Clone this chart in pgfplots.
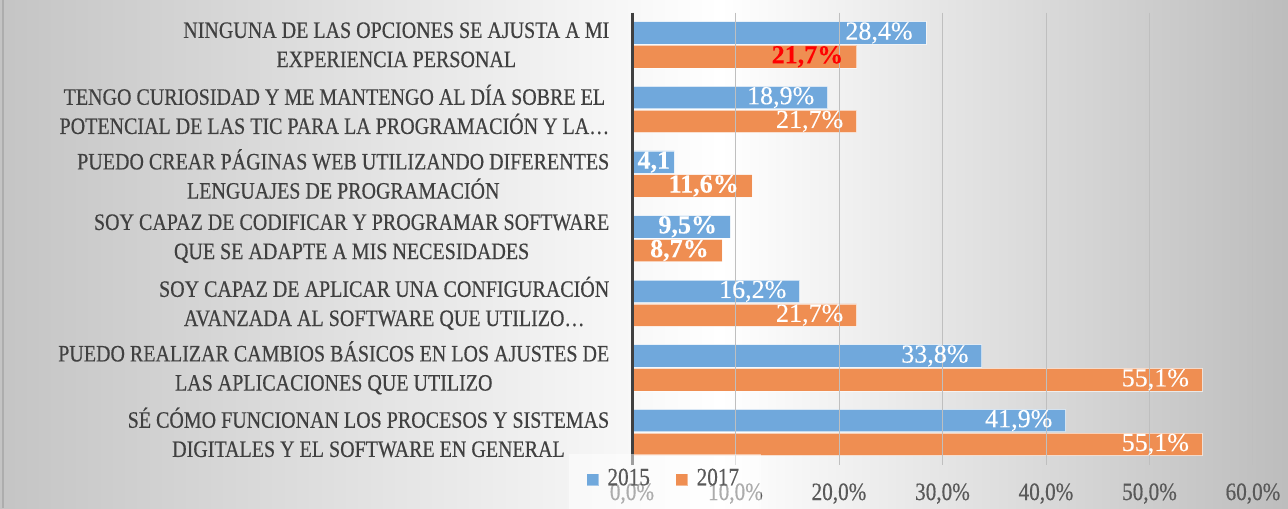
\documentclass[border=0pt]{standalone}
\usepackage{fontspec}
\setmainfont{Liberation Serif}
\newfontfamily\catfont{Liberation Serif}[FakeStretch=0.85, FakeBold=0.4]
\newfontfamily\datafont{Liberation Serif}[FakeBold=0.8]
\usepackage{pgfplots}
\pgfplotsset{compat=1.18}
\definecolor{cblue}{RGB}{112,168,220}
\definecolor{corange}{RGB}{239,142,82}
\definecolor{lbl}{RGB}{64,64,64}
\definecolor{tck}{RGB}{89,89,89}
\begin{document}
\begin{tikzpicture}[x=1mm,y=1mm]
\useasboundingbox (0,0) rectangle (128.8,50.8);
\shade[left color=black!23, right color=white] (0,0) rectangle (72,50.8);
\shade[left color=white, right color=black!26] (72,0) rectangle (128.8,50.8);
\draw[black!32, line width=0.2mm] (0.3,0) -- (0.3,50.8);
\begin{axis}[
  at={(63.2mm,4.33mm)}, anchor=south west, scale only axis,
  width=62.1mm, height=45.22mm,
  xbar, bar width=0.348,
  xmin=0, xmax=60, ymin=-0.5, ymax=6.5, y dir=reverse,
  xtick={0,10,20,30,40,50,60},
  xticklabels={{0,0\%},{10,0\%},{20,0\%},{30,0\%},{40,0\%},{50,0\%},{60,0\%}},
  ytick={0,1,2,3,4,5,6},
  yticklabels={
    {NINGUNA DE LAS OPCIONES SE AJUSTA A MI\\EXPERIENCIA PERSONAL},
    {TENGO CURIOSIDAD Y ME MANTENGO AL DÍA SOBRE EL\\POTENCIAL DE LAS TIC PARA LA PROGRAMACIÓN Y LA…},
    {PUEDO CREAR PÁGINAS WEB UTILIZANDO DIFERENTES\\LENGUAJES DE PROGRAMACIÓN},
    {SOY CAPAZ DE CODIFICAR Y PROGRAMAR SOFTWARE\\QUE SE ADAPTE A MIS NECESIDADES},
    {SOY CAPAZ DE APLICAR UNA CONFIGURACIÓN\\AVANZADA AL SOFTWARE QUE UTILIZO…},
    {PUEDO REALIZAR CAMBIOS BÁSICOS EN LOS AJUSTES DE\\LAS APLICACIONES QUE UTILIZO},
    {SÉ CÓMO FUNCIONAN LOS PROCESOS Y SISTEMAS\\DIGITALES Y EL SOFTWARE EN GENERAL}},
  yticklabel style={align=center, font=\catfont\fontsize{6.7}{8.3}\selectfont, text=lbl, anchor=east, inner sep=0pt, xshift=-0.7mm},
  xticklabel style={font=\catfont\fontsize{7.1}{8}\selectfont, text=tck, inner sep=0pt, yshift=-1.8mm},
  axis line style={draw=none}, tick style={draw=none},
  xmajorgrids, grid style={draw=black!25, line width=0.1mm},
  extra x ticks={0}, extra x tick labels={},
  extra x tick style={grid style={draw=lbl, line width=0.3mm}},
  axis on top,
  point meta=explicit symbolic,
  nodes near coords={\pgfplotspointmeta},
  nodes near coords style={anchor=east, inner sep=0pt, xshift=-1.3mm, text=white, font=\datafont\fontsize{7.4}{8}\selectfont},
  legend style={at={(-0.103,0.026)}, anchor=north west, fill=white, fill opacity=0.5, draw opacity=1, text opacity=1, draw=none,
    font=\catfont\fontsize{7.1}{8}\selectfont, text=tck, inner xsep=1.5mm, inner ysep=0.8mm,
    /tikz/every even column/.append style={column sep=1.6mm}},
  legend columns=2,
]
\addplot[fill=cblue, draw=white, draw opacity=0.6, line width=0.2pt, bar shift=-0.184,
  legend image code/.code={\fill[cblue, fill opacity=1] (0.3mm,-0.55mm) rectangle (1.4mm,0.55mm); \path (0,0) (1.6mm,0);}]
  coordinates {(28.4,0) [28,4\%] (18.9,1) [18,9\%] (4.1,2) [\textbf{4,1}\kern-0.9mm] (9.5,3) [\textbf{9,5\%}]
    (16.2,4) [16,2\%] (33.8,5) [33,8\%] (41.9,6) [41,9\%]};
\addlegendentry{2015}
\addplot[fill=corange, draw=white, draw opacity=0.6, line width=0.2pt, bar shift=0.184,
  legend image code/.code={\fill[corange, fill opacity=1] (0.3mm,-0.55mm) rectangle (1.4mm,0.55mm); \path (0,0) (1.6mm,0);}]
  coordinates {(21.7,1) [21,7\%] (11.6,2) [\textbf{11,6\%}] (8.7,3) [\textbf{8,7\%}]
    (21.7,4) [21,7\%] (55.1,5) [55,1\%] (55.1,6) [55,1\%]};
\addlegendentry{2017}
\addplot[fill=corange, draw=white, draw opacity=0.6, line width=0.2pt, bar shift=0.184, forget plot,
  nodes near coords style={text=red}]
  coordinates {(21.7,0) [\textbf{21,7\%}]};
\end{axis}
\end{tikzpicture}
\end{document}
